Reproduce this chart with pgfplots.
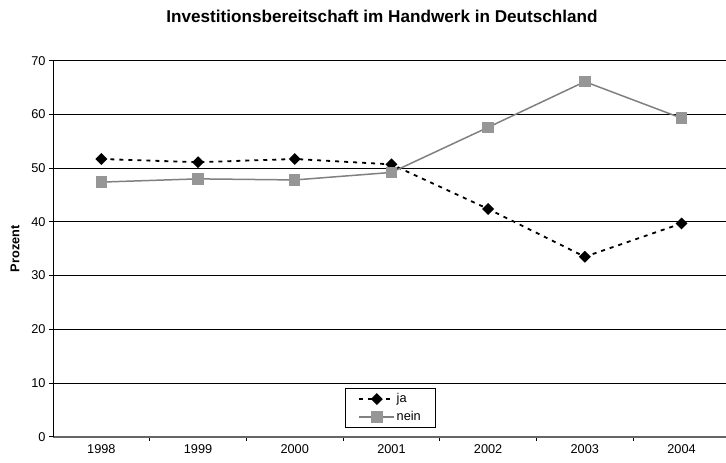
\documentclass[border=0pt]{standalone}
\usepackage{fontspec}
\setmainfont{Liberation Sans}
\usepackage{pgfplots}
\pgfplotsset{compat=1.18}
\definecolor{neinline}{RGB}{128,128,128}
\definecolor{neinfill}{RGB}{150,150,150}
\begin{document}
\begin{tikzpicture}
\useasboundingbox (0,0) rectangle (726bp,463bp);
\clip (0,0) rectangle (726bp,463bp);
\node[anchor=base,font=\fontsize{17.2}{20}\selectfont\bfseries] at (382bp,440.3bp) {Investitionsbereitschaft im Handwerk in Deutschland};
\begin{axis}[
  at={(53bp,26.3bp)}, anchor=south west,
  scale only axis, width=673bp, height=376bp,
  xmin=-0.5, xmax=6.46, ymin=0, ymax=70,
  axis x line=bottom, axis y line=left,
  axis line style={-},
  x axis line style={draw=gray!80!black, line width=1.8bp},
  y axis line style={draw=black, line width=0.9bp},
  xtick={0,...,6}, xticklabels={1998,1999,2000,2001,2002,2003,2004},
  major x tick style={draw=none},
  minor xtick={0.5,1.5,2.5,3.5,4.5,5.5},
  minor x tick style={black, line width=0.6bp},
  ytick={0,10,...,70},
  ymajorgrids, grid style={black, line width=0.8bp},
  tick align=outside, major tick length=4bp, minor tick length=4bp,
  y tick style={black, line width=0.8bp},
  /pgf/number format/assume math mode=true,
  tick label style={font=\fontsize{12.8}{15}\selectfont},
  ylabel={Prozent},
  ylabel style={font=\fontsize{12.8}{15}\selectfont\bfseries, at={(axis description cs:-0.0565,0.5)}, anchor=center},
  legend style={at={(0.4339,0.1287)}, anchor=north west, draw=black, line width=0.8bp,
    font=\fontsize{12.8}{15}\selectfont, row sep=3bp, inner xsep=13bp, inner ysep=3bp,
    nodes={inner xsep=1.5bp, inner ysep=2bp}},
  legend cell align=left,
  legend image code/.code={\draw[mark repeat=2,mark phase=2] plot coordinates {(0bp,0bp) (17.5bp,0bp) (35bp,0bp)};},
]
\addplot[black, line width=1.8bp, dash pattern=on 4bp off 5bp, mark=square*, mark size=3.3bp, mark options={solid, fill=black, rotate=45}]
 coordinates {(0,51.7) (1,51.1) (2,51.7) (3,50.7) (4,42.4) (5,33.5) (6,39.7)};
\addlegendentry{ja}
\addplot[neinline, line width=1.5bp, mark=square*, mark size=5bp, mark options={solid, fill=neinfill, draw=neinfill}]
 coordinates {(0,47.4) (1,48.0) (2,47.8) (3,49.2) (4,57.6) (5,66.1) (6,59.3)};
\addlegendentry{nein}
\end{axis}
\end{tikzpicture}
\end{document}
